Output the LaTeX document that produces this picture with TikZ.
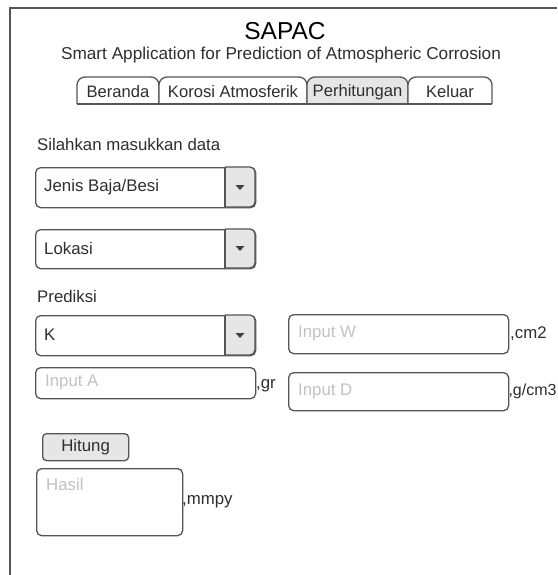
\documentclass[tikz,border=0pt]{standalone}
\usepackage{fontspec}
\setmainfont{Liberation Sans}
\definecolor{edge}{HTML}{555555}
\definecolor{txt}{HTML}{2E2E2E}
\definecolor{phc}{HTML}{C2C2C2}
\definecolor{btn}{HTML}{E6E6E6}
\begin{document}
\begin{tikzpicture}[x=1pt,y=-1pt,
  box/.style={draw=edge, line width=1.3pt, rounded corners=5pt, fill=white, inner sep=0pt, anchor=north west},
  ln/.style={draw=edge, line width=1.3pt},
  lbl/.style={font=\fontsize{16.8}{19}\selectfont, text=txt, inner sep=0pt},
  ph/.style={font=\fontsize{16.8}{19}\selectfont, text=phc, inner sep=0pt},
  tabtxt/.style={font=\fontsize{16.6}{19}\selectfont, text=txt, inner sep=0pt},
]
\useasboundingbox (0,0) rectangle (557,575);
% frame
\draw[edge, line width=2pt] (10,575) -- (10,8) -- (557,8);
% title
\node[font=\fontsize{24.5}{28}\selectfont, text=black, inner sep=0pt] (title) at (285,31) {SAPAC};
\node[font=\fontsize{17.2}{19}\selectfont, text=txt, inner sep=0pt] (sub) at (281,55) {Smart Application for Prediction of Atmospheric Corrosion};
% tabs
\filldraw[ln, fill=white, rounded corners=8pt] (77,104) -- (77,77) -- (159,77) -- (159,104);
\draw[ln] (77,104) -- (159,104);
\node[tabtxt] (t1) at (118,92) {Beranda};
\filldraw[ln, fill=white, rounded corners=8pt] (159,104) -- (159,77) -- (307,77) -- (307,104);
\draw[ln] (159,104) -- (307,104);
\node[tabtxt] (t2) at (233,92) {Korosi Atmosferik};
\filldraw[ln, fill=btn, rounded corners=8pt] (307,104) -- (307,77) -- (408,77) -- (408,104);
\draw[ln] (307,104) -- (408,104);
\node[tabtxt] (t3) at (357.5,92) {Perhitungan};
\filldraw[ln, fill=white, rounded corners=8pt] (408,104) -- (408,77) -- (492,77) -- (492,104);
\draw[ln] (408,104) -- (492,104);
\node[tabtxt] (t4) at (450,92) {Keluar};
% heading
\node[lbl, anchor=west] (intro) at (37,144) {Silahkan masukkan data};
% dropdown 1
\node[box, minimum width=220pt, minimum height=40pt] (dd1) at (35,167) {};
\filldraw[ln, fill=btn, rounded corners=5pt] (225,167) -- (255,167) -- (255,207) -- (225,207);
\draw[ln] (225,167) -- (225,207);
\fill[black!75] (235.5,185) -- (244.5,185) -- (240,190) -- cycle;
\node[lbl, anchor=west] (dd1t) at (44,187) {Jenis Baja/Besi};
% dropdown 2
\node[box, minimum width=220pt, minimum height=39pt] (dd2) at (35,229) {};
\filldraw[ln, fill=btn, rounded corners=5pt] (225,229) -- (255,229) -- (255,268) -- (225,268);
\draw[ln] (225,229) -- (225,268);
\fill[black!75] (235.5,246) -- (244.5,246) -- (240,251) -- cycle;
\node[lbl, anchor=west] (dd2t) at (44,248.5) {Lokasi};
% prediksi
\node[lbl, anchor=west] (pred) at (37,296) {Prediksi};
\node[box, minimum width=220pt, minimum height=40pt] (dd3) at (35,315) {};
\filldraw[ln, fill=btn, rounded corners=5pt] (225,315) -- (255,315) -- (255,355) -- (225,355);
\draw[ln] (225,315) -- (225,355);
\fill[black!75] (235.5,333) -- (244.5,333) -- (240,338) -- cycle;
\node[lbl, anchor=west] (dd3t) at (44,335) {K};
% input A
\node[box, minimum width=220pt, minimum height=31pt] (ina) at (35,367) {};
\node[ph, anchor=west] (inat) at (45,382) {Input A};
\node[lbl, anchor=west] (gr) at (256,386) {,gr};
% input W
\node[box, minimum width=220pt, minimum height=39pt] (inw) at (288,314) {};
\node[ph, anchor=west] (inwt) at (298,333) {Input W};
\node[lbl, anchor=west] (cm2) at (510,334) {,cm2};
% input D
\node[box, minimum width=220pt, minimum height=38pt] (ind) at (288,372) {};
\node[ph, anchor=west] (indt) at (298,391) {Input D};
\node[lbl, anchor=west, font=\fontsize{16}{19}\selectfont] (gcm3) at (508.3,391) {,g/cm3};
% hitung
\node[box, fill=btn, rounded corners=4pt, minimum width=86pt, minimum height=27pt, font=\fontsize{16.8}{19}\selectfont, text=txt] (hit) at (42,433) {Hitung};
% hasil
\node[box, minimum width=146pt, minimum height=67pt] (has) at (36,468) {};
\node[ph, anchor=west] (hast) at (46,484) {Hasil};
\node[lbl, anchor=west] (mmpy) at (182,502) {,mmpy};
\end{tikzpicture}
\end{document}
